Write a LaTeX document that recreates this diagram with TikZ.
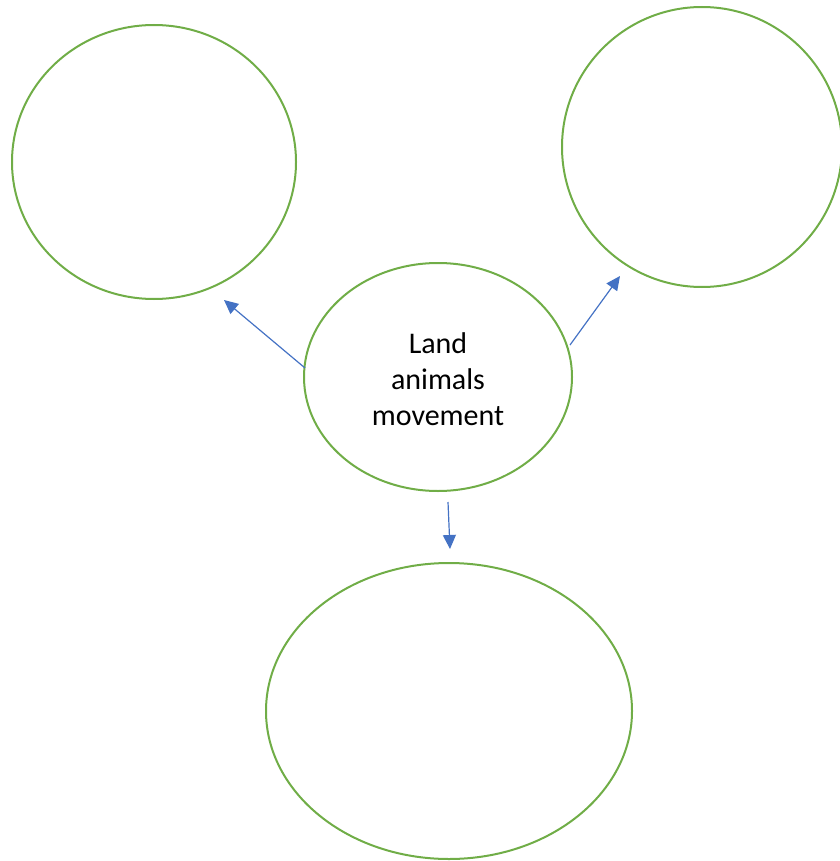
\documentclass[tikz,border=0pt]{standalone}
\usepackage{fontspec}
\setmainfont{Carlito}
\usetikzlibrary{arrows.meta,shapes.geometric}
\definecolor{grn}{HTML}{70AD47}
\definecolor{blu}{HTML}{4472C4}
\begin{document}
\begin{tikzpicture}[x=1pt,y=-1pt,
  circ/.style={draw=grn,line width=2pt,ellipse,inner sep=0pt,outer sep=0pt},
  conn/.style={draw=blu,line width=1.2pt,-{Triangle[length=14pt,width=13pt]}}]
\useasboundingbox (0,0) rectangle (839,861);
\node[circ,minimum width=284pt,minimum height=274pt] (tl) at (154,162) {};
\node[circ,minimum width=280pt,minimum height=280pt] (tr) at (702,147) {};
\node[circ,minimum width=268pt,minimum height=228pt] (c) at (438,377) {};
\node[circ,minimum width=366pt,minimum height=296pt] (b) at (449,711) {};
\node[align=center,font=\fontsize{30}{36}\selectfont] (lbl) at (438,379) {Land\\animals\\movement};
\coordinate (s1) at (305,368); \coordinate (t1) at (224,300);
\coordinate (s2) at (570,345); \coordinate (t2) at (620,276);
\coordinate (s3) at (448,502); \coordinate (t3) at (450,549);
\draw[conn] (s1) -- (t1);
\draw[conn] (s2) -- (t2);
\draw[conn] (s3) -- (t3);
\end{tikzpicture}
\end{document}
